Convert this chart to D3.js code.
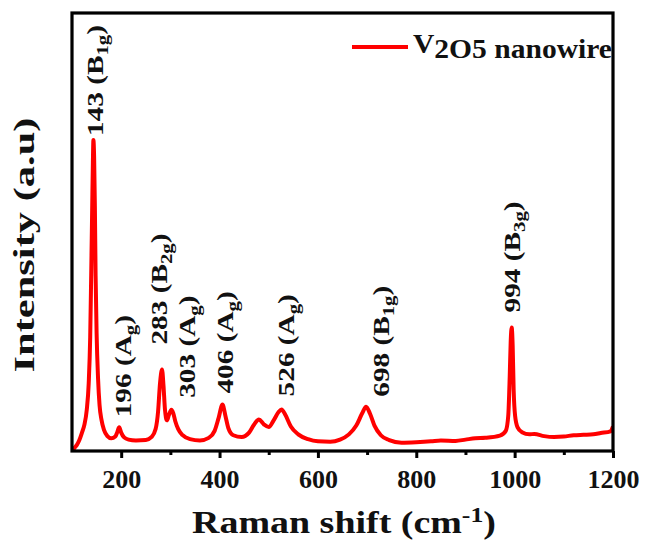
<!DOCTYPE html>
<html>
<head>
<meta charset="utf-8">
<script src="https://cdn.jsdelivr.net/npm/d3@7"></script>
<style>
  body { margin: 0; background: #fff; }
  text { font-family: "Liberation Serif", "Times New Roman", serif; font-weight: bold; fill: #111; }
</style>
</head>
<body>
<svg id="chart" width="646" height="540"></svg>
<script>
// Raman spectrum of V2O5 nanowires (arbitrary intensity units)
const ramanShift = [100, 105, 110, 115, 120, 125, 130, 134, 137, 139, 141, 142.5, 143.5, 145, 146.5, 148, 150, 153, 156, 160,
  165, 172, 180, 188, 192, 196, 200, 206, 215, 230, 250, 262, 270, 275, 279, 283, 286, 289, 293, 297,
  302, 306, 310, 316, 325, 340, 360, 378, 390, 398, 406, 412, 418, 428, 445, 460, 470, 480, 490, 500,
  510, 520, 526, 534, 545, 560, 580, 600, 625, 645, 663, 678, 690, 698, 706, 715, 728, 745, 770, 800,
  830, 850, 880, 900, 920, 940, 970, 982, 987, 990, 992, 994, 996, 998, 1001, 1006, 1015, 1030, 1040, 1060,
  1080, 1100, 1120, 1140, 1160, 1175, 1195, 1200];
const intensity = [0, 0.7, 1.4, 2.5, 4.1, 5.9, 9.4, 15.5, 26, 40, 55, 66, 71, 67, 56, 40, 27, 16.5, 10.5, 7.1,
  4.8, 3.4, 2.9, 3.3, 4.3, 5.4, 4.2, 3.1, 2.6, 2.4, 2.5, 3.2, 5, 9, 15.5, 18.6, 15, 9.5, 7, 8.2,
  9.4, 8.6, 6.8, 5, 3.6, 2.7, 2.4, 3, 4.6, 7.5, 10.6, 8, 5.2, 3.6, 3.2, 4.2, 6, 7.2, 6.1, 5.5,
  7, 8.9, 9.5, 8.2, 5.6, 3.8, 2.7, 2.2, 2.1, 2.6, 3.8, 5.8, 8.6, 10.1, 8.5, 5.8, 3.6, 2.5, 1.9, 2,
  2.2, 2.4, 2.3, 2.6, 2.9, 3, 3.5, 4.6, 8, 17, 25, 28.2, 24, 14, 8, 5.4, 4.3, 3.8, 3.9, 3.4,
  3.2, 3.3, 3.6, 3.7, 3.8, 4.1, 4.5, 5.6];

// Assigned Raman modes: position, symmetry letter, subscript
const peakShift = [143, 196, 283, 303, 406, 526, 698, 994];
const peakSymbol = ["B", "A", "B", "A", "A", "A", "B", "B"];
const peakIndex = ["1g", "g", "2g", "g", "g", "g", "1g", "3g"];

const xTicks = [200, 400, 600, 800, 1000, 1200];
const xMinorTicks = [300, 500, 700, 900, 1100];

// Label placement relative to each peak apex: [right shift, gap above]
const labelNudge = [[10, 4], [12, 10], [5, 25], [23, 12], [11, 11], [12, 13], [23, 10], [8, 15]];

const svg = d3.select("#chart");
const plot = { left: 72, right: 613, top: 13, bottom: 451 };

const x = d3.scaleLinear().domain([100, 1200]).range([plot.left, plot.right]);
const y = d3.scaleLinear().domain([0, 100]).range([plot.bottom, plot.top]);

const points = ramanShift.map((s, i) => [s, intensity[i]]);
// apex of a band: highest recorded intensity within a few wavenumbers
const peakHeight = s => d3.max(points.filter(p => Math.abs(p[0] - s) <= 4), p => p[1]);

// stretch factor that brings a text to a given length
function fit(sel, length) {
  return length / sel.node().getComputedTextLength();
}

// spectrum
svg.append("clipPath").attr("id", "plotClip").append("rect")
  .attr("x", plot.left).attr("y", plot.top)
  .attr("width", plot.right - plot.left).attr("height", plot.bottom - plot.top);

svg.append("path")
  .datum(points)
  .attr("clip-path", "url(#plotClip)")
  .attr("fill", "none")
  .attr("stroke", "#ff0000")
  .attr("stroke-width", 4)
  .attr("stroke-linejoin", "round")
  .attr("d", d3.line().x(d => x(d[0])).y(d => y(d[1])).curve(d3.curveMonotoneX));

// bottom axis with major and minor ticks
const minorG = svg.append("g").attr("transform", `translate(0,${plot.bottom})`);
minorG.call(d3.axisBottom(x).tickValues(xMinorTicks).tickSize(4).tickFormat(""));
minorG.select(".domain").remove();
const majorG = svg.append("g").attr("transform", `translate(0,${plot.bottom})`);
majorG.call(d3.axisBottom(x).tickValues(xTicks).tickSize(7).tickFormat(d3.format("d")));
majorG.select(".domain").remove();
svg.selectAll(".tick line").attr("stroke", "#000").attr("stroke-width", 3);
majorG.selectAll(".tick text")
  .attr("font-size", 26)
  .attr("fill", "#111")
  .attr("dy", null)
  .attr("y", 37);

// frame
svg.append("rect")
  .attr("x", plot.left).attr("y", plot.top)
  .attr("width", plot.right - plot.left).attr("height", plot.bottom - plot.top)
  .attr("fill", "none").attr("stroke", "#000").attr("stroke-width", 3.2);

// peak labels, rotated
peakShift.forEach((s, i) => {
  const [dx, gap] = labelNudge[i];
  const bx = x(s) + dx;
  const by = y(peakHeight(s)) - gap;
  const t = svg.append("text").attr("font-size", 24);
  t.append("tspan").text(`${s} (${peakSymbol[i]}`);
  t.append("tspan").attr("font-size", 17).attr("dy", 5).text(peakIndex[i]);
  t.append("tspan").attr("dy", -5).text(")");
  t.attr("transform", `translate(${bx},${by}) rotate(-90) scale(1.22,1)`);
});

// legend
svg.append("line")
  .attr("x1", 352).attr("x2", 408).attr("y1", 47).attr("y2", 47)
  .attr("stroke", "#ff0000").attr("stroke-width", 4);
const leg = svg.append("text").attr("font-size", 27);
leg.append("tspan").attr("dy", -5).text("V");
leg.append("tspan").attr("dy", 5).text("2O5 nanowire");
leg.attr("transform", `translate(413,58) scale(${fit(leg, 199)},1)`);

// axis titles
const xt = svg.append("text").attr("font-size", 31).attr("text-anchor", "middle");
xt.append("tspan").text("Raman shift (cm");
xt.append("tspan").attr("font-size", 21).attr("dy", -11).text("-1");
xt.append("tspan").attr("dy", 11).text(")");
xt.attr("transform", `translate(344,533) scale(${fit(xt, 304)},1)`);

const yt = svg.append("text").attr("font-size", 30).attr("text-anchor", "middle").text("Intensity (a.u)");
yt.attr("transform", `translate(34,245) rotate(-90) scale(${fit(yt, 255)},1)`);
</script>
</body>
</html>
